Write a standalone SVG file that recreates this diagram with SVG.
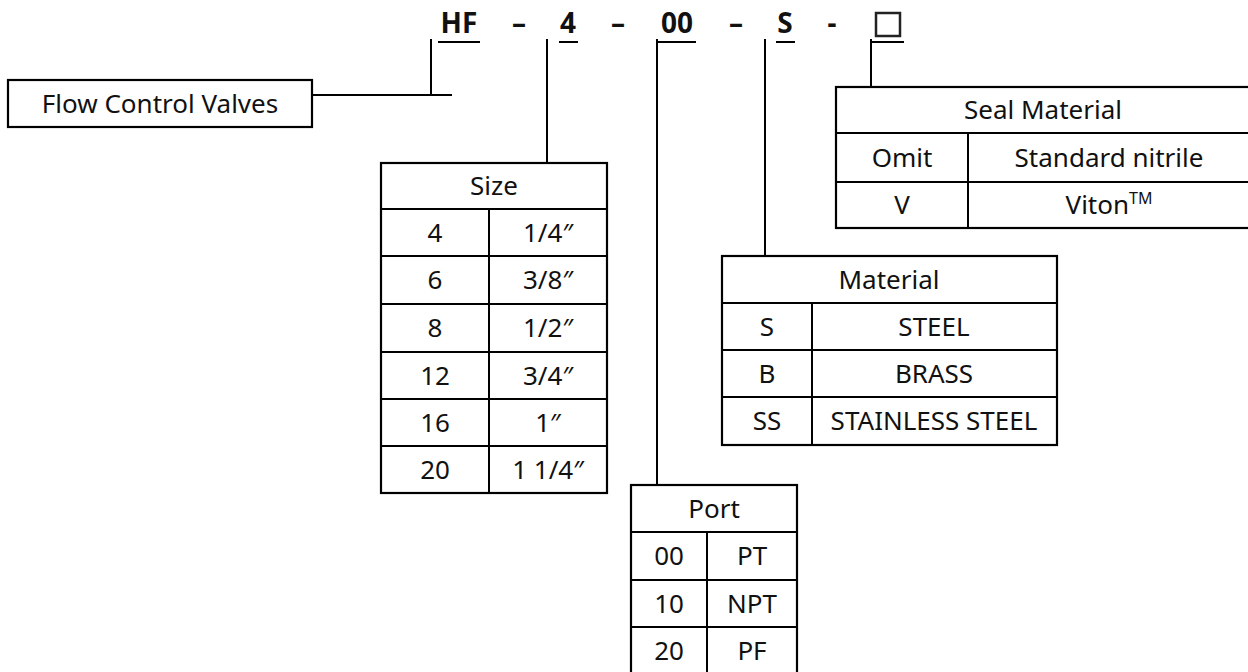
<svg xmlns="http://www.w3.org/2000/svg" width="1248" height="672" viewBox="0 0 1248 672">
<style>
.ln{stroke:#000;stroke-width:2;fill:none}
.bx{stroke:#000;stroke-width:2.2;fill:#fff}
.t{font-family:"Noto Sans","Open Sans",sans-serif;font-size:26px;fill:#111;text-anchor:middle}
.h{font-family:"Noto Sans","Open Sans",sans-serif;font-size:28px;font-weight:bold;fill:#111;text-anchor:middle}
</style>
<rect width="1248" height="672" fill="#fff"/>
<g id="code">
<text class="h" x="459" y="33">HF</text>
<text class="h" x="519" y="33">–</text>
<text class="h" x="568" y="33">4</text>
<text class="h" x="618" y="33">–</text>
<text class="h" x="677" y="33">00</text>
<text class="h" x="736" y="33">–</text>
<text class="h" x="785" y="33">S</text>
<text class="h" x="832" y="33">-</text>
<rect x="876" y="13" width="24" height="23" fill="none" stroke="#222" stroke-width="2.5"/>
<g class="ln">
<line x1="438" y1="42" x2="480" y2="42"/>
<line x1="559" y1="42" x2="578" y2="42"/>
<line x1="658" y1="42" x2="696" y2="42"/>
<line x1="776" y1="42" x2="795" y2="42"/>
<line x1="871" y1="42" x2="904" y2="42"/>
</g>
</g>
<g id="connectors" class="ln">
<line x1="431" y1="39" x2="431" y2="95"/>
<line x1="312" y1="95" x2="452" y2="95"/>
<line x1="547" y1="39" x2="547" y2="163"/>
<line x1="657" y1="39" x2="657" y2="485"/>
<line x1="765" y1="39" x2="765" y2="256"/>
<line x1="871" y1="39" x2="871" y2="87"/>
</g>
<g id="flow">
<rect class="bx" x="8" y="80" width="304" height="47"/>
<text class="t" x="160" y="113">Flow Control Valves</text>
</g>
<g id="size">
<rect class="bx" x="381" y="163" width="226" height="330"/>
<g class="ln">
<line x1="381" y1="209" x2="607" y2="209"/>
<line x1="381" y1="256" x2="607" y2="256"/>
<line x1="381" y1="304" x2="607" y2="304"/>
<line x1="381" y1="352" x2="607" y2="352"/>
<line x1="381" y1="399" x2="607" y2="399"/>
<line x1="381" y1="446" x2="607" y2="446"/>
<line x1="489" y1="209" x2="489" y2="493"/>
</g>
<text class="t" x="494" y="195">Size</text>
<text class="t" x="435" y="242">4</text><text class="t" x="548" y="242">1/4″</text>
<text class="t" x="435" y="289">6</text><text class="t" x="548" y="289">3/8″</text>
<text class="t" x="435" y="337">8</text><text class="t" x="548" y="337">1/2″</text>
<text class="t" x="435" y="385">12</text><text class="t" x="548" y="385">3/4″</text>
<text class="t" x="435" y="432">16</text><text class="t" x="548" y="432">1″</text>
<text class="t" x="435" y="479">20</text><text class="t" x="548" y="479">1 1/4″</text>
</g>
<g id="port">
<rect class="bx" x="631" y="485" width="166" height="200"/>
<g class="ln">
<line x1="631" y1="532" x2="797" y2="532"/>
<line x1="631" y1="580" x2="797" y2="580"/>
<line x1="631" y1="627" x2="797" y2="627"/>
<line x1="707" y1="532" x2="707" y2="680"/>
</g>
<text class="t" x="714" y="518">Port</text>
<text class="t" x="669" y="565">00</text><text class="t" x="752" y="565">PT</text>
<text class="t" x="669" y="613">10</text><text class="t" x="752" y="613">NPT</text>
<text class="t" x="669" y="660">20</text><text class="t" x="752" y="660">PF</text>
</g>
<g id="material">
<rect class="bx" x="722" y="256" width="335" height="189"/>
<g class="ln">
<line x1="722" y1="303" x2="1057" y2="303"/>
<line x1="722" y1="350" x2="1057" y2="350"/>
<line x1="722" y1="397" x2="1057" y2="397"/>
<line x1="812" y1="303" x2="812" y2="445"/>
</g>
<text class="t" x="889" y="289">Material</text>
<text class="t" x="767" y="336">S</text><text class="t" x="934" y="336">STEEL</text>
<text class="t" x="767" y="383">B</text><text class="t" x="934" y="383">BRASS</text>
<text class="t" x="767" y="430">SS</text><text class="t" x="934" y="430">STAINLESS STEEL</text>
</g>
<g id="seal">
<rect class="bx" x="836" y="87" width="420" height="141"/>
<g class="ln">
<line x1="836" y1="133" x2="1256" y2="133"/>
<line x1="836" y1="182" x2="1256" y2="182"/>
<line x1="968" y1="133" x2="968" y2="228"/>
</g>
<text class="t" x="1043" y="119">Seal Material</text>
<text class="t" x="902" y="167">Omit</text><text class="t" x="1109" y="167">Standard nitrile</text>
<text class="t" x="902" y="214">V</text><text class="t" x="1109" y="214">Viton<tspan font-size="16" dy="-10">TM</tspan></text>
</g>
</svg>
